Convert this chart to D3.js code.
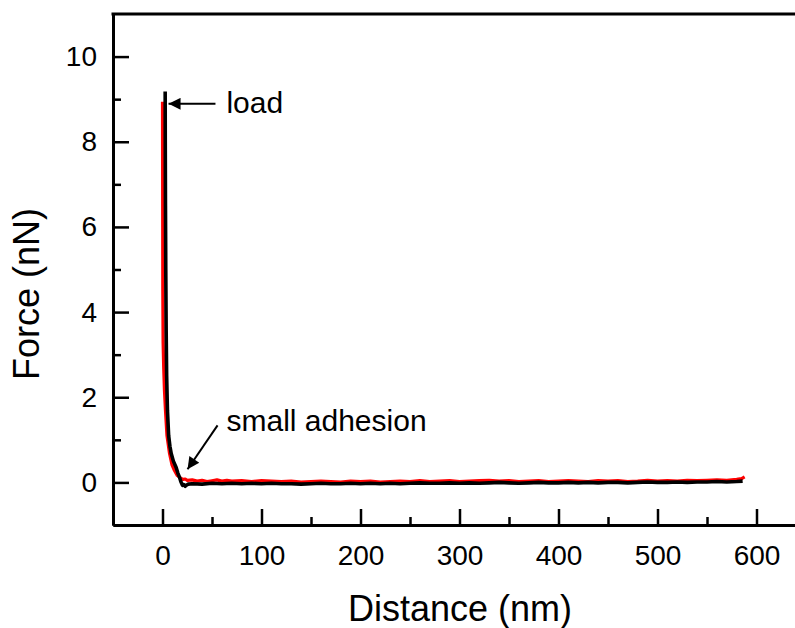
<!DOCTYPE html>
<html>
<head>
<meta charset="utf-8">
<script src="https://cdn.jsdelivr.net/npm/d3@7/dist/d3.min.js"></script>
<style>
  html, body { margin: 0; padding: 0; background: #fff; }
  svg { display: block; font-family: "Liberation Sans", Arial, sans-serif; }
</style>
</head>
<body>
<svg id="chart" width="795" height="628"></svg>
<script>
// Force–distance curves (two runs)
const redDist = [0, 0.1, 0.2, 0.3, 0.6, 1.2, 2.0, 3.0, 4.5, 7.1, 9.5, 12.1, 15.0, 18.9, 21, 23, 25,
  30, 35, 40, 45, 50, 55, 60, 65, 70, 80, 90, 100, 110, 120, 130, 140, 150, 160, 170, 180, 190, 200,
  210, 220, 230, 240, 250, 260, 270, 280, 290, 300, 310, 320, 330, 340, 350, 360, 370, 380, 390, 400,
  410, 420, 430, 440, 450, 460, 470, 480, 490, 500, 510, 520, 530, 540, 550, 560, 570, 580, 585, 588];
const redForce = [8.94, 7.5, 6.0, 4.5, 3.3, 2.7, 2.15, 1.69, 1.10, 0.68, 0.42, 0.28, 0.16, 0.09, 0.07, 0.08, 0.05,
  0.06, 0.03, 0.05, 0.02, 0.04, 0.06, 0.03, 0.05, 0.03, 0.04, 0.02, 0.04, 0.03, 0.02, 0.03, 0.01, 0.02, 0.03, 0.02, 0.01, 0.03, 0.02,
  0.03, 0.01, 0.02, 0.03, 0.02, 0.04, 0.02, 0.03, 0.04, 0.02, 0.03, 0.04, 0.05, 0.03, 0.04, 0.02, 0.03, 0.04, 0.02, 0.03,
  0.04, 0.03, 0.02, 0.04, 0.03, 0.04, 0.02, 0.03, 0.05, 0.03, 0.04, 0.03, 0.05, 0.04, 0.05, 0.06, 0.05, 0.07, 0.09, 0.13];

const blackDist = [2.7, 2.8, 3.0, 3.3, 3.7, 4.2, 5.0, 6.2, 7.5, 8.8, 11.0, 13.8, 15.5, 17.2, 18.5, 20.2, 21.5, 23.0, 24.5, 26.0,
  30, 40, 50, 60, 70, 80, 90, 100, 110, 120, 130, 140, 150, 160, 170, 180, 190, 200,
  210, 220, 230, 240, 250, 260, 270, 280, 290, 300, 310, 320, 330, 340, 350, 360, 370, 380, 390, 400,
  410, 420, 430, 440, 450, 460, 470, 480, 490, 500, 510, 520, 530, 540, 550, 560, 570, 580, 586];
const blackForce = [9.18, 8.0, 6.5, 5.0, 3.58, 2.5, 1.69, 1.10, 0.85, 0.68, 0.50, 0.35, 0.22, 0.12, 0.02, -0.07, -0.05, -0.09, -0.06, -0.04,
  -0.03, -0.04, -0.02, -0.03, -0.02, -0.03, -0.02, -0.03, -0.02, -0.03, -0.03, -0.04, -0.03, -0.02, -0.03, -0.03, -0.02, -0.03,
  -0.02, -0.03, -0.02, -0.03, -0.02, -0.01, -0.02, -0.02, -0.01, -0.02, -0.01, -0.02, -0.01, 0.00, -0.01, -0.02, -0.01, 0.00, -0.01, -0.01,
  0.00, -0.01, 0.00, -0.01, 0.00, 0.00, -0.01, 0.00, 0.01, 0.00, 0.00, 0.01, 0.00, 0.01, 0.01, 0.02, 0.01, 0.02, 0.03];

const xMajor = [0, 100, 200, 300, 400, 500, 600];
const xMinor = [50, 150, 250, 350, 450, 550];
const yMajor = [0, 2, 4, 6, 8, 10];
const yMinor = [1, 3, 5, 7, 9];

const svg = d3.select("#chart");
const plotLeft = 113, plotTop = 14, plotBottom = 525;

const x = d3.scaleLinear().domain([-50, 650]).range([plotLeft, plotLeft + 693]);
const y = d3.scaleLinear().domain([-1, 11]).range([plotBottom, plotTop]);

const axisStyle = g => {
  g.selectAll("path.domain").attr("stroke", "#000").attr("stroke-width", 3);
  g.selectAll(".tick line").attr("stroke", "#000").attr("stroke-width", 2.5);
  g.selectAll(".tick text").attr("fill", "#000").attr("font-size", 28)
    .attr("font-family", "'Liberation Sans', Arial, sans-serif");
};

// curves
const line = d3.line().x(d => x(d[0])).y(d => y(d[1]));
const redData = redDist.map((d, i) => [d, redForce[i]]);
const blackData = blackDist.map((d, i) => [d, blackForce[i]]);

svg.append("path").datum(redData).attr("d", line)
  .attr("fill", "none").attr("stroke", "#ff0000").attr("stroke-width", 3.2)
  .attr("stroke-linejoin", "round");
svg.append("path").datum(blackData).attr("d", line)
  .attr("fill", "none").attr("stroke", "#000").attr("stroke-width", 3.6)
  .attr("stroke-linejoin", "round");

// x axis
svg.append("g").attr("transform", `translate(0,${plotBottom})`)
  .call(d3.axisBottom(x).tickValues(xMinor).tickSize(-8).tickSizeOuter(0).tickFormat(""))
  .call(axisStyle);
svg.append("g").attr("transform", `translate(0,${plotBottom})`)
  .call(d3.axisBottom(x).tickValues(xMajor).tickSize(-16).tickSizeOuter(0).tickPadding(20))
  .call(axisStyle);

// y axis
svg.append("g").attr("transform", `translate(${plotLeft},0)`)
  .call(d3.axisLeft(y).tickValues(yMinor).tickSize(-8).tickSizeOuter(0).tickFormat(""))
  .call(axisStyle);
svg.append("g").attr("transform", `translate(${plotLeft},0)`)
  .call(d3.axisLeft(y).tickValues(yMajor).tickSize(-16).tickSizeOuter(0).tickPadding(16))
  .call(axisStyle);

// top frame
svg.append("line").attr("x1", plotLeft - 1.5).attr("x2", x(650)).attr("y1", plotTop).attr("y2", plotTop)
  .attr("stroke", "#000").attr("stroke-width", 3);

// axis titles
svg.append("text").attr("x", 460).attr("y", 621).attr("text-anchor", "middle")
  .attr("font-size", 36).text("Distance (nm)");
svg.append("text").attr("transform", "translate(39,294) rotate(-90)").attr("text-anchor", "middle")
  .attr("font-size", 36).text("Force (nN)");

// annotations
const defs = svg.append("defs");
defs.append("marker").attr("id", "head").attr("viewBox", "0 0 10 10")
  .attr("refX", 10).attr("refY", 5).attr("markerWidth", 17).attr("markerHeight", 12)
  .attr("markerUnits", "userSpaceOnUse").attr("orient", "auto")
  .append("path").attr("d", "M0,0 L10,5 L0,10 Z").attr("fill", "#000");

function arrow(d0, f0, d1, f1) {
  svg.append("line").attr("x1", x(d0)).attr("y1", y(f0)).attr("x2", x(d1)).attr("y2", y(f1))
    .attr("stroke", "#000").attr("stroke-width", 2).attr("marker-end", "url(#head)");
}
arrow(53.5, 8.89, 6.1, 8.89);
svg.append("text").attr("x", x(64.6)).attr("y", y(8.68)).attr("font-size", 30).text("load");

arrow(55.6, 1.34, 25.3, 0.31);
svg.append("text").attr("x", x(64.6)).attr("y", y(1.2)).attr("font-size", 30).text("small adhesion");
</script>
</body>
</html>
